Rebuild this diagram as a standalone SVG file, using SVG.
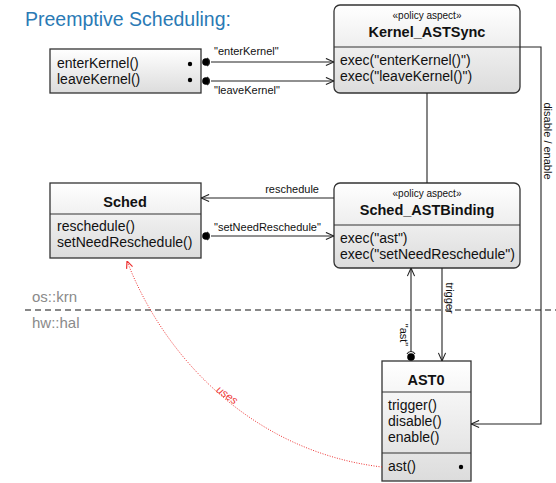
<svg xmlns="http://www.w3.org/2000/svg" width="556" height="483" viewBox="0 0 556 483">
<defs>
<linearGradient id="g" x1="0" y1="0" x2="0" y2="1"><stop offset="0" stop-color="#ffffff"/><stop offset="1" stop-color="#dcdcdc"/></linearGradient>
<marker id="open" viewBox="0 0 10 10" refX="10" refY="5" markerWidth="9" markerHeight="9" orient="auto" markerUnits="userSpaceOnUse"><path d="M1,1 L10,5 L1,9" fill="none" stroke="#222" stroke-width="1.2"/></marker>
<marker id="red" viewBox="0 0 10 10" refX="10" refY="5" markerWidth="8" markerHeight="8" orient="auto" markerUnits="userSpaceOnUse"><path d="M1,1 L10,5 L1,9" fill="none" stroke="#e33" stroke-width="1.5"/></marker>
</defs>
<style>
text{font-family:"Liberation Sans",Arial,sans-serif;fill:#111}
.box{fill:url(#g);stroke:#333;stroke-width:1.3}
.div{stroke:#333;stroke-width:1.2}
.m{font-size:14px}
.t{font-size:14.5px;font-weight:bold}
.st{font-size:10px}
.lbl{font-size:11px}
.c{fill:none;stroke:#222;stroke-width:1.1}
.gray{fill:#8a8a8a;font-size:15px}
</style>
<text x="25" y="26" style="font-size:19.5px;fill:#2a7ab5">Preemptive Scheduling:</text>
<g id="separator">
<line x1="25" y1="310" x2="556" y2="310" stroke="#888" stroke-width="2" stroke-dasharray="6,4"/>
<text x="32" y="302" class="gray">os::krn</text>
<text x="32" y="328" class="gray">hw::hal</text>
</g>
<g id="kernel">
<rect x="50" y="49" width="151" height="44" class="box"/>
<text x="57" y="68" class="m">enterKernel()</text>
<text x="57" y="84" class="m">leaveKernel()</text>
<circle cx="190" cy="64" r="2.2"/>
<circle cx="190" cy="80" r="2.2"/>
</g>
<g id="Kernel_ASTSync">
<rect x="334" y="5" width="186" height="88" rx="6" class="box"/>
<text x="427" y="19" class="st" text-anchor="middle">«policy aspect»</text>
<text x="427" y="37" class="t" text-anchor="middle">Kernel_ASTSync</text>
<line x1="334" y1="47" x2="520" y2="47" class="div"/>
<text x="340" y="65" class="m">exec("enterKernel()")</text>
<text x="340" y="81" class="m">exec("leaveKernel()")</text>
</g>
<g id="Sched">
<rect x="50" y="183" width="151" height="75" class="box"/>
<text x="125" y="207" class="t" text-anchor="middle">Sched</text>
<line x1="50" y1="214" x2="201" y2="214" class="div"/>
<text x="57" y="231" class="m">reschedule()</text>
<text x="57" y="247" class="m">setNeedReschedule()</text>
</g>
<g id="Sched_ASTBinding">
<rect x="334" y="183" width="186" height="85" rx="6" class="box"/>
<text x="427" y="197" class="st" text-anchor="middle">«policy aspect»</text>
<text x="427" y="215" class="t" text-anchor="middle">Sched_ASTBinding</text>
<line x1="334" y1="225" x2="520" y2="225" class="div"/>
<text x="340" y="243" class="m">exec("ast")</text>
<text x="340" y="259" class="m">exec("setNeedReschedule")</text>
</g>
<g id="AST0">
<rect x="382" y="361" width="89" height="120" class="box"/>
<text x="426" y="385" class="t" text-anchor="middle">AST0</text>
<line x1="382" y1="392" x2="471" y2="392" class="div"/>
<text x="388" y="410" class="m">trigger()</text>
<text x="388" y="426" class="m">disable()</text>
<text x="388" y="442" class="m">enable()</text>
<line x1="382" y1="453" x2="471" y2="453" class="div"/>
<text x="388" y="471" class="m">ast()</text>
<circle cx="461" cy="467" r="2.2"/>
</g>
<g id="connectors">
<circle cx="206" cy="62" r="3.8"/>
<path d="M207,58 A4.5,4.5 0 0 1 207,66" class="c"/>
<line x1="211" y1="62" x2="334" y2="62" class="c" marker-end="url(#open)"/>
<text x="214" y="55" class="lbl">"enterKernel"</text>
<circle cx="206" cy="81" r="3.8"/>
<path d="M207,77 A4.5,4.5 0 0 1 207,85" class="c"/>
<line x1="211" y1="81" x2="334" y2="81" class="c" marker-end="url(#open)"/>
<text x="214" y="94" class="lbl">"leaveKernel"</text>
<line x1="427" y1="93" x2="427" y2="183" class="c"/>
<polyline points="520,47 541,47 541,424 471,424" class="c" marker-end="url(#open)"/>
<text transform="translate(544,141) rotate(90)" class="lbl" text-anchor="middle">disable / enable</text>
<line x1="334" y1="198" x2="201" y2="198" class="c" marker-end="url(#open)"/>
<text x="319" y="193" class="lbl" text-anchor="end">reschedule</text>
<circle cx="206" cy="236" r="3.8"/>
<path d="M207,232 A4.5,4.5 0 0 1 207,240" class="c"/>
<line x1="211" y1="236" x2="334" y2="236" class="c" marker-end="url(#open)"/>
<text x="214" y="231" class="lbl">"setNeedReschedule"</text>
<circle cx="411" cy="357" r="3.8"/>
<path d="M407,354 A4.5,4.5 0 0 1 415,354" class="c"/>
<line x1="411" y1="352" x2="411" y2="268" class="c" marker-end="url(#open)"/>
<text transform="translate(400,335) rotate(90)" class="lbl" text-anchor="middle">"ast"</text>
<line x1="442" y1="268" x2="442" y2="361" class="c" marker-end="url(#open)"/>
<text transform="translate(446,298) rotate(90)" class="lbl" text-anchor="middle">trigger</text>
<path d="M382,467 C255,452 165,360 127,261" fill="none" stroke="#e33" stroke-width="1" stroke-dasharray="1,1.5" marker-end="url(#red)"/>
<text transform="translate(225,398) rotate(36)" class="lbl" text-anchor="middle" style="fill:#e33;font-style:italic">uses</text>
</g>
</svg>
